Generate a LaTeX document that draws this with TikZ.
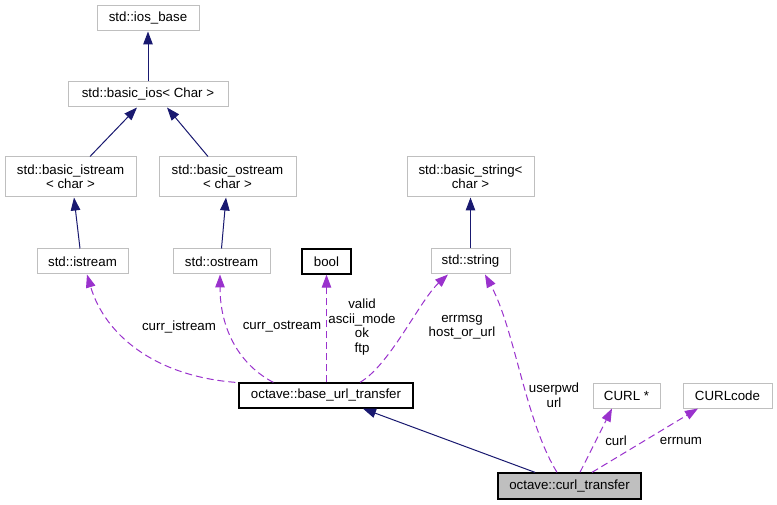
\documentclass[tikz,border=0pt]{standalone}
\usepackage{fontspec}
\setmainfont{Liberation Sans}
\usetikzlibrary{arrows.meta}
\definecolor{edgeblue}{HTML}{191970}
\definecolor{edgepurple}{HTML}{9A32CD}
\definecolor{greybox}{HTML}{BFBFBF}
\begin{document}
\begin{tikzpicture}[x=1pt,y=-1pt,
  every node/.style={font=\fontsize{13.3}{14.5}\selectfont, inner sep=0pt},
  cls/.style={draw=greybox, line width=1pt, fill=white, align=center, minimum height=25pt},
  docbox/.style={draw=black, line width=1.3pt, fill=white, align=center, minimum height=25pt},
  inh/.style={draw=edgeblue, line width=1pt, -{Triangle[length=13pt,width=9.5pt]}},
  usage/.style={draw=edgepurple, line width=1pt, dash pattern=on 7pt off 4pt, -{Triangle[length=13pt,width=9.5pt]}},
  lbl/.style={align=center, font=\fontsize{13.3}{14.5}\selectfont}]
\useasboundingbox (0,0) rectangle (777,505);
\fill[white] (0,0) rectangle (777,505);

% nodes
\node[cls, minimum width=102pt] (iosb) at (148,18.5) {std::ios\_base};
\node[cls, minimum width=160pt] (bios) at (148,94.5) {std::basic\_ios< Char >};
\node[cls, minimum width=131pt, minimum height=40pt, font=\fontsize{13.3}{14}\selectfont] (bistr) at (70.5,177) {std::basic\_istream\\< char >};
\node[cls, minimum width=137pt, minimum height=40pt, font=\fontsize{13.3}{14}\selectfont] (bostr) at (227.5,177) {std::basic\_ostream\\< char >};
\node[cls, minimum width=91pt] (istr) at (82.5,261.5) {std::istream};
\node[cls, minimum width=97pt] (ostr) at (221.5,261.5) {std::ostream};
\node[docbox, minimum width=49pt] (bool) at (326.5,261.5) {bool};
\node[cls, minimum width=127pt, minimum height=40pt, font=\fontsize{13.3}{14}\selectfont] (bstr) at (470.5,177) {std::basic\_string<\\char >};
\node[cls, minimum width=79pt] (str) at (470.5,261.5) {std::string};
\node[docbox, minimum width=174pt] (base) at (326,395.5) {octave::base\_url\_transfer};
\node[cls, minimum width=67pt] (curlp) at (626.5,395.5) {CURL *};
\node[cls, minimum width=89pt] (curlc) at (727.5,395.5) {CURLcode};
\node[docbox, fill=greybox, minimum width=143pt, minimum height=26pt] (ct) at (569.5,486) {octave::curl\_transfer};

% inheritance edges
\draw[inh] (bios.north) -- (iosb.south);
\draw[inh] ([xshift=19.5pt]bistr.north) -- ([xshift=-11pt]bios.south);
\draw[inh] ([xshift=-19.5pt]bostr.north) -- ([xshift=19pt]bios.south);
\draw[inh] ([xshift=-2.5pt]istr.north) -- ([xshift=3.5pt]bistr.south);
\draw[inh] (ostr.north) -- ([xshift=-1.5pt]bostr.south);
\draw[inh] (str.north) -- (bstr.south);
\draw[inh] ([xshift=-34.5pt]ct.north) -- ([xshift=37pt]base.south);

% usage edges
\draw[usage] ([xshift=-3pt]base.north west) .. controls (155,376) and (105,335) .. ([xshift=4.5pt]istr.south);
\draw[usage] ([xshift=35pt]base.north west) .. controls (240,365) and (220,330) .. ([xshift=-1.5pt]ostr.south);
\draw[usage] ([xshift=0.5pt]base.north) -- (bool.south);
\draw[usage] ([xshift=34pt]base.north) .. controls (390,365) and (420,300) .. ([xshift=-22.5pt]str.south);
\draw[usage] ([xshift=-12.5pt]ct.north) .. controls (525,420) and (515,330) .. ([xshift=14.5pt]str.south);
\draw[usage] ([xshift=10.5pt]ct.north) -- ([xshift=-14.5pt]curlp.south);
\draw[usage] ([xshift=22.5pt]ct.north) -- ([xshift=-29.5pt]curlc.south);

% labels
\node[lbl] (l1) at (179,327) {curr\_istream};
\node[lbl] (l2) at (282,327) {curr\_ostream};
\node[lbl] (l3) at (362,327) {valid\\ascii\_mode\\ok\\ftp};
\node[lbl] (l4) at (462,327) {errmsg\\host\_or\_url};
\node[lbl] (l5) at (554,395) {userpwd\\url};
\node[lbl] (l6) at (616,441) {curl};
\node[lbl] (l7) at (681,441) {errnum};
\end{tikzpicture}
\end{document}
